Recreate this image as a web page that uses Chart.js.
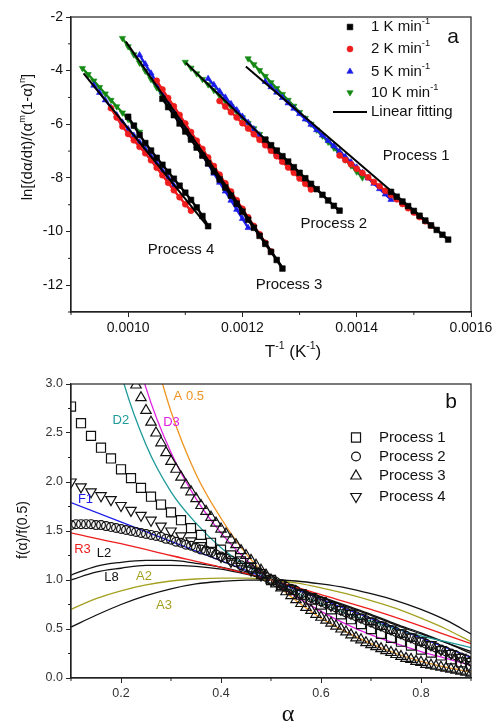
<!DOCTYPE html>
<html lang="en">
<head>
  <meta charset="UTF-8">
  <title>Kinetic analysis plots</title>
  <script src="https://cdn.jsdelivr.net/npm/chart.js"></script>
  <style>
    body { margin: 0; background: #fff; }
    #wrap { position: relative; width: 494px; height: 723px; }
    canvas { position: absolute; left: 0; }
    #chartA { top: 0; }
    #chartB { top: 365px; }
  </style>
</head>
<body>
<div id="wrap">
  <canvas id="chartA" width="494" height="365"></canvas>
  <canvas id="chartB" width="494" height="358"></canvas>
</div>
<script>
// ---------- panel a : ln[(da/dt)/(a^m(1-a)^n)] vs 1/T ----------
const a_xTicks = [0.0010, 0.0012, 0.0014, 0.0016];
const a_xMinor = [0.0009, 0.0011, 0.0013, 0.0015];
const a_yTicks = [-12, -10, -8, -6, -4, -2];
const a_yMinor = [-13, -11, -9, -7, -5, -3];

// Process 4
const a_p4_1K = [[0.00100,-5.72],[0.00101,-6.05],[0.00102,-6.40],[0.00103,-6.70],[0.00104,-6.98],[0.00105,-7.25],[0.00106,-7.51],[0.00107,-7.77],[0.00108,-8.03],[0.00109,-8.29],[0.00110,-8.55],[0.00111,-8.82],[0.00112,-9.10],[0.00113,-9.42],[0.00114,-9.80]];
const a_p4_2K = [[0.00097,-5.40],[0.00098,-5.75],[0.00099,-6.08],[0.00100,-6.36],[0.00101,-6.60],[0.00102,-6.84],[0.00103,-7.08],[0.00104,-7.34],[0.00105,-7.62],[0.00106,-7.90],[0.00107,-8.18],[0.00108,-8.46],[0.00109,-8.72],[0.00110,-8.98],[0.00111,-9.22]];
const a_p4_5K = [[0.00094,-4.55],[0.00095,-4.82],[0.00096,-5.10],[0.00097,-5.38],[0.00098,-5.66],[0.00099,-5.93],[0.00100,-6.18],[0.00101,-6.42],[0.00102,-6.67],[0.00103,-6.93],[0.00104,-7.19],[0.00105,-7.46],[0.00106,-7.73],[0.00107,-8.00],[0.00108,-8.28]];
const a_p4_10K = [[0.00092,-3.91],[0.00093,-4.14],[0.00094,-4.38],[0.00095,-4.62],[0.00096,-4.86],[0.00097,-5.10],[0.00098,-5.34],[0.00099,-5.57],[0.00100,-5.81],[0.00101,-6.05],[0.00102,-6.29]];
const a_fit4 = [[0.000922,-4.10],[0.001139,-9.81]];

// Process 3
const a_p3_1K = [[0.00106,-5.05],[0.00107,-5.36],[0.00108,-5.66],[0.00109,-5.97],[0.00110,-6.27],[0.00111,-6.57],[0.00112,-6.87],[0.00113,-7.17],[0.00114,-7.46],[0.00115,-7.76],[0.00116,-8.06],[0.00117,-8.36],[0.00118,-8.66],[0.00119,-8.96],[0.00120,-9.26],[0.00121,-9.56],[0.00122,-9.86],[0.00123,-10.16],[0.00124,-10.46],[0.00125,-10.76],[0.00126,-11.06],[0.00127,-11.38]];
const a_p3_2K = [[0.00105,-4.38],[0.00106,-4.70],[0.00107,-5.02],[0.00108,-5.33],[0.00109,-5.65],[0.00110,-5.97],[0.00111,-6.29],[0.00112,-6.61],[0.00113,-6.92],[0.00114,-7.24],[0.00115,-7.56],[0.00116,-7.88],[0.00117,-8.20],[0.00118,-8.51],[0.00119,-8.83],[0.00120,-9.15],[0.00121,-9.47],[0.00122,-9.79],[0.00123,-10.10],[0.00124,-10.42],[0.00125,-10.74]];
const a_p3_5K = [[0.00102,-3.42],[0.00103,-3.76],[0.00104,-4.10],[0.00105,-4.44],[0.00106,-4.78],[0.00107,-5.12],[0.00108,-5.45],[0.00109,-5.79],[0.00110,-6.13],[0.00111,-6.47],[0.00112,-6.81],[0.00113,-7.15],[0.00114,-7.49],[0.00115,-7.83],[0.00116,-8.17],[0.00117,-8.50],[0.00118,-8.84],[0.00119,-9.18],[0.00120,-9.52],[0.00121,-9.86]];
const a_p3_10K = [[0.00099,-2.79],[0.00100,-3.10],[0.00101,-3.40],[0.00102,-3.71],[0.00103,-4.01],[0.00104,-4.32],[0.00105,-4.63],[0.00106,-4.93],[0.00107,-5.24],[0.00108,-5.54],[0.00109,-5.85],[0.00110,-6.16],[0.00111,-6.46],[0.00112,-6.77],[0.00113,-7.07],[0.00114,-7.38],[0.00115,-7.69],[0.00116,-7.99],[0.00117,-8.30],[0.00118,-8.60],[0.00119,-8.91],[0.00120,-9.22]];
const a_fit3 = [[0.000996,-2.92],[0.001269,-11.30]];

// Process 2
const a_p2_1K = [[0.00124,-6.57],[0.00125,-6.78],[0.00126,-6.98],[0.00127,-7.19],[0.00128,-7.39],[0.00129,-7.60],[0.00130,-7.81],[0.00131,-8.01],[0.00132,-8.22],[0.00133,-8.42],[0.00134,-8.63],[0.00135,-8.84],[0.00136,-9.04],[0.00137,-9.22]];
const a_p2_2K = [[0.00116,-5.13],[0.00117,-5.34],[0.00118,-5.55],[0.00119,-5.75],[0.00120,-5.96],[0.00121,-6.16],[0.00122,-6.37],[0.00123,-6.58],[0.00124,-6.78],[0.00125,-6.99],[0.00126,-7.19],[0.00127,-7.40],[0.00128,-7.61],[0.00129,-7.81],[0.00130,-8.02],[0.00131,-8.22],[0.00132,-8.43]];
const a_p2_5K = [[0.00114,-4.30],[0.00115,-4.53],[0.00116,-4.77],[0.00117,-5.00],[0.00118,-5.24],[0.00119,-5.47],[0.00120,-5.71],[0.00121,-5.94],[0.00122,-6.18],[0.00123,-6.41],[0.00124,-6.65],[0.00125,-6.88],[0.00126,-7.12],[0.00127,-7.38]];
const a_p2_10K = [[0.00110,-3.68],[0.00111,-3.90],[0.00112,-4.11],[0.00113,-4.32],[0.00114,-4.52],[0.00115,-4.73],[0.00116,-4.93],[0.00117,-5.14],[0.00118,-5.34],[0.00119,-5.55],[0.00120,-5.75],[0.00121,-5.96],[0.00122,-6.16],[0.00123,-6.37],[0.00124,-6.57],[0.00125,-6.78],[0.00126,-6.98]];
const a_fit2 = [[0.001101,-3.71],[0.001367,-9.19]];

// Process 1
const a_p1_1K = [[0.00146,-8.52],[0.00147,-8.70],[0.00148,-8.88],[0.00149,-9.05],[0.00150,-9.23],[0.00151,-9.41],[0.00152,-9.59],[0.00153,-9.77],[0.00154,-9.94],[0.00155,-10.12],[0.00156,-10.30]];
const a_p1_2K = [[0.00137,-7.16],[0.00138,-7.33],[0.00139,-7.49],[0.00140,-7.66],[0.00141,-7.82],[0.00142,-7.98],[0.00143,-8.15],[0.00144,-8.31],[0.00145,-8.48],[0.00146,-8.64],[0.00147,-8.80],[0.00148,-8.97],[0.00149,-9.13],[0.00150,-9.29],[0.00151,-9.46],[0.00152,-9.62],[0.00153,-9.78]];
const a_p1_5K = [[0.00124,-4.41],[0.00125,-4.61],[0.00126,-4.81],[0.00127,-5.01],[0.00128,-5.21],[0.00129,-5.41],[0.00130,-5.61],[0.00131,-5.81],[0.00132,-6.01],[0.00133,-6.21],[0.00134,-6.41],[0.00135,-6.61],[0.00136,-6.81],[0.00137,-7.01],[0.00138,-7.21],[0.00139,-7.41],[0.00140,-7.61],[0.00141,-7.81],[0.00142,-8.01],[0.00143,-8.21],[0.00144,-8.41],[0.00145,-8.61],[0.00146,-8.81]];
const a_p1_10K = [[0.00121,-3.55],[0.00122,-3.77],[0.00123,-3.99],[0.00124,-4.21],[0.00125,-4.44],[0.00126,-4.66],[0.00127,-4.88],[0.00128,-5.10],[0.00129,-5.32],[0.00130,-5.55],[0.00131,-5.77],[0.00132,-5.99],[0.00133,-6.21],[0.00134,-6.43],[0.00135,-6.66],[0.00136,-6.88],[0.00137,-7.10],[0.00138,-7.32],[0.00139,-7.54],[0.00140,-7.77],[0.00141,-7.99]];
const a_fit1 = [[0.001206,-3.85],[0.00156,-10.31]];

// ---------- panel b : f(a)/f(0.5) master plots ----------
const b_ticksX = [0.2, 0.4, 0.6, 0.8];
const b_minorX = [0.1, 0.3, 0.5, 0.7, 0.9];
const b_ticksY = [0, 0.5, 1.0, 1.5, 2.0, 2.5, 3.0];
const b_minorY = [0.25, 0.75, 1.25, 1.75, 2.25, 2.75];

const b_alphaFine = [0.10,0.11,0.12,0.13,0.14,0.15,0.16,0.17,0.18,0.19,0.20,0.21,0.22,0.23,0.24,0.25,0.26,0.27,0.28,0.29,0.30,0.31,0.32,0.33,0.34,0.35,0.36,0.37,0.38,0.39,0.40,0.41,0.42,0.43,0.44,0.45,0.46,0.47,0.48,0.49,0.50,0.51,0.52,0.53,0.54,0.55,0.56,0.57,0.58,0.59,0.60,0.61,0.62,0.63,0.64,0.65,0.66,0.67,0.68,0.69,0.70,0.71,0.72,0.73,0.74,0.75,0.76,0.77,0.78,0.79,0.80,0.81,0.82,0.83,0.84,0.85,0.86,0.87,0.88,0.89,0.90];
const b_alphaCoarse = [0.10,0.12,0.14,0.16,0.18,0.20,0.22,0.24,0.26,0.28,0.30,0.32,0.34,0.36,0.38,0.40,0.42,0.44,0.46,0.48,0.50,0.52,0.54,0.56,0.58,0.60,0.62,0.64,0.66,0.68,0.70,0.72,0.74,0.76,0.78,0.80,0.82,0.84,0.86,0.88,0.90];

const b_proc1 = [2.77,2.60,2.47,2.35,2.24,2.13,2.04,1.94,1.85,1.77,1.69,1.61,1.53,1.46,1.38,1.31,1.25,1.19,1.13,1.06,1.00,0.95,0.90,0.85,0.80,0.75,0.70,0.65,0.60,0.55,0.50,0.45,0.41,0.37,0.33,0.29,0.26,0.23,0.19,0.16,0.12];
const b_proc2 = [1.56,1.57,1.57,1.57,1.57,1.56,1.56,1.55,1.54,1.53,1.52,1.51,1.50,1.49,1.48,1.47,1.46,1.45,1.44,1.42,1.41,1.39,1.38,1.36,1.35,1.33,1.31,1.30,1.28,1.26,1.24,1.22,1.20,1.18,1.15,1.13,1.11,1.08,1.05,1.03,1.00,0.98,0.96,0.93,0.91,0.89,0.86,0.84,0.82,0.80,0.78,0.76,0.74,0.72,0.69,0.67,0.65,0.63,0.61,0.59,0.57,0.55,0.53,0.51,0.49,0.47,0.45,0.43,0.41,0.39,0.37,0.35,0.33,0.31,0.29,0.27,0.25,0.23,0.21,0.19,0.17];
const b_proc3 = [null,null,null,null,null,null,null,null,null,null,null,null,null,2.99,2.86,2.73,2.61,2.50,2.40,2.30,2.21,2.13,2.05,1.97,1.90,1.83,1.76,1.70,1.64,1.58,1.52,1.47,1.41,1.36,1.30,1.25,1.20,1.15,1.10,1.05,1.00,0.96,0.92,0.88,0.84,0.80,0.76,0.72,0.69,0.65,0.62,0.59,0.56,0.53,0.50,0.47,0.44,0.41,0.39,0.36,0.34,0.32,0.30,0.28,0.26,0.24,0.22,0.20,0.19,0.17,0.16,0.14,0.13,0.12,0.11,0.10,0.09,0.08,0.07,0.06,0.05];
const b_proc4 = [2.00,1.95,1.90,1.86,1.82,1.76,1.71,1.66,1.61,1.55,1.50,1.45,1.40,1.35,1.30,1.24,1.19,1.14,1.10,1.05,1.00,0.96,0.91,0.87,0.83,0.79,0.74,0.70,0.66,0.62,0.58,0.54,0.50,0.46,0.42,0.38,0.34,0.29,0.25,0.21,0.17];

// model curves [alpha, f(alpha)/f(0.5)]
const b_A05 = [[0.25,3.6],[0.30,2.72],[0.35,2.08],[0.40,1.63],[0.45,1.27],[0.50,1.00],[0.55,0.79],[0.60,0.61],[0.65,0.47],[0.70,0.35],[0.75,0.25],[0.80,0.17],[0.85,0.11],[0.90,0.06]];
const b_D3 = [[0.20,3.94],[0.25,2.96],[0.30,2.30],[0.35,1.83],[0.40,1.48],[0.45,1.21],[0.50,1.00],[0.55,0.83],[0.60,0.68],[0.65,0.55],[0.70,0.44],[0.75,0.35],[0.80,0.27],[0.85,0.20],[0.90,0.13]];
const b_D2 = [[0.15,4.27],[0.20,3.11],[0.25,2.38],[0.30,1.90],[0.35,1.58],[0.40,1.33],[0.45,1.15],[0.50,1.00],[0.55,0.87],[0.60,0.76],[0.65,0.66],[0.70,0.58],[0.75,0.50],[0.80,0.43],[0.85,0.37],[0.90,0.31]];
const b_F1 = [[0.10,1.79],[0.50,1.00],[0.90,0.21]];
const b_R3 = [[0.10,1.48],[0.20,1.37],[0.30,1.25],[0.40,1.13],[0.50,1.00],[0.60,0.85],[0.70,0.70],[0.80,0.53],[0.90,0.35]];
const b_L2 = [[0.10,1.05],[0.15,1.14],[0.20,1.18],[0.25,1.20],[0.30,1.20],[0.35,1.17],[0.40,1.13],[0.45,1.07],[0.50,1.00],[0.55,0.91],[0.60,0.82],[0.65,0.73],[0.70,0.64],[0.75,0.54],[0.80,0.45],[0.85,0.36],[0.90,0.27]];
const b_L8 = [[0.10,1.00],[0.15,1.08],[0.20,1.12],[0.25,1.15],[0.30,1.15],[0.35,1.14],[0.40,1.11],[0.45,1.06],[0.50,1.00],[0.55,0.92],[0.60,0.83],[0.65,0.74],[0.70,0.65],[0.75,0.55],[0.80,0.46],[0.85,0.36],[0.90,0.25]];
const b_A2 = [[0.10,0.70],[0.15,0.81],[0.20,0.89],[0.25,0.95],[0.30,0.99],[0.35,1.01],[0.40,1.02],[0.45,1.02],[0.50,1.00],[0.55,0.97],[0.60,0.92],[0.65,0.86],[0.70,0.79],[0.75,0.71],[0.80,0.61],[0.85,0.50],[0.90,0.37]];
const b_A3 = [[0.10,0.52],[0.15,0.64],[0.20,0.75],[0.25,0.84],[0.30,0.91],[0.35,0.96],[0.40,0.985],[0.45,0.998],[0.50,1.00],[0.55,0.99],[0.60,0.96],[0.65,0.92],[0.70,0.86],[0.75,0.79],[0.80,0.70],[0.85,0.59],[0.90,0.45]];

// ---------- helpers ----------
const FONT = '"Liberation Sans", Arial, sans-serif';
const C_RED = '#ee1c1c', C_BLUE = '#1c1ce8', C_GREEN = '#148a14';

const pairs = p => p.map(d => ({ x: d[0], y: d[1] }));
const zip = (xs, ys) => xs.map((x, i) => ({ x: x, y: ys[i] }));

function drawRich(ctx, parts, x, y, size, align, family) {
  const fam = family || FONT;
  let w = 0;
  parts.forEach(p => {
    ctx.font = (p[1] ? size * 0.62 : size) + 'px ' + fam;
    w += ctx.measureText(p[0]).width;
  });
  let cx = align === 'center' ? x - w / 2 : (align === 'right' ? x - w : x);
  ctx.textAlign = 'left';
  ctx.textBaseline = 'middle';
  parts.forEach(p => {
    const s = p[1] ? size * 0.62 : size;
    ctx.font = s + 'px ' + fam;
    ctx.fillText(p[0], cx, p[1] ? y - size * 0.36 : y);
    cx += ctx.measureText(p[0]).width;
  });
}

function seg(ctx, x1, y1, x2, y2) {
  ctx.beginPath(); ctx.moveTo(x1, y1); ctx.lineTo(x2, y2); ctx.stroke();
}

function decor(cfg) {
  return {
    id: 'decor',
    afterDraw(chart) {
      const ctx = chart.ctx, ca = chart.chartArea;
      const sx = chart.scales.x, sy = chart.scales.y;
      ctx.save();
      // frame
      ctx.strokeStyle = '#222';
      ctx.lineWidth = 1.2;
      ctx.strokeRect(ca.left, ca.top, ca.right - ca.left, ca.bottom - ca.top);
      // minor ticks
      ctx.lineWidth = 1;
      cfg.minorX.forEach(v => { const p = sx.getPixelForValue(v); seg(ctx, p, ca.bottom, p, ca.bottom + 3); });
      cfg.minorY.forEach(v => { const p = sy.getPixelForValue(v); seg(ctx, ca.left - 3, p, ca.left, p); });
      // annotations
      cfg.texts.forEach(t => {
        ctx.fillStyle = t.color || '#111';
        drawRich(ctx, t.parts, sx.getPixelForValue(t.x), sy.getPixelForValue(t.y), t.size, 'center', t.family);
      });
      // legend
      const lg = cfg.legend;
      lg.items.forEach((it, i) => {
        const y = lg.y[i];
        if (it.line) {
          ctx.strokeStyle = '#000'; ctx.lineWidth = 2;
          seg(ctx, lg.lineX[0], y, lg.lineX[1], y);
        } else {
          ctx.fillStyle = it.fill; ctx.strokeStyle = it.color; ctx.lineWidth = it.bw;
          Chart.helpers.drawPoint(ctx, { pointStyle: it.style, rotation: it.rot || 0, radius: it.r, borderWidth: it.bw }, lg.markX, y);
        }
        ctx.fillStyle = '#111';
        drawRich(ctx, it.parts, lg.textX, y, lg.size, 'left');
      });
      // axis titles
      ctx.fillStyle = '#111';
      const xt = cfg.xTitle, yt = cfg.yTitle;
      drawRich(ctx, xt.parts, xt.x, xt.y, xt.size, 'center', xt.family);
      ctx.translate(yt.x, yt.y);
      ctx.rotate(-Math.PI / 2);
      drawRich(ctx, yt.parts, 0, 0, yt.size, 'center', yt.family);
      ctx.restore();
    }
  };
}

function axes(xr, yr, xTicks, yTicks, xFmt, yFmt, xH, yW, fontSize, color) {
  const common = (ticks, fmt) => ({
    type: 'linear',
    grid: { drawOnChartArea: false, drawTicks: true, tickLength: 5, color: '#222', tickWidth: 1 },
    border: { display: true, color: '#222', width: 1.2 },
    afterBuildTicks: s => { s.ticks = ticks.map(v => ({ value: v })); },
    ticks: { padding: 3, color: color, font: { family: FONT, size: fontSize }, callback: v => v.toFixed(fmt), maxRotation: 0, autoSkip: false }
  });
  const x = Object.assign(common(xTicks, xFmt), {
    min: xr[0], max: xr[1],
    afterFit: s => { s.height = xH; s.paddingLeft = 0; s.paddingRight = 0; s.paddingTop = 0; s.paddingBottom = 0; }
  });
  const y = Object.assign(common(yTicks, yFmt), {
    min: yr[0], max: yr[1],
    afterFit: s => { s.width = yW; s.paddingLeft = 0; s.paddingRight = 0; s.paddingTop = 0; s.paddingBottom = 0; }
  });
  return { x: x, y: y };
}

// dense marker chains: markers joined by a line of the same colour
function sc(data, color, style, r, order, rot) {
  return {
    data: pairs(data), showLine: true, borderColor: color, borderWidth: 2.4, order: order,
    pointStyle: style, pointRadius: r, pointRotation: rot || 0,
    pointBackgroundColor: color, pointBorderColor: color, pointBorderWidth: 0.6
  };
}
function fit(data) {
  return { data: pairs(data), showLine: true, borderColor: '#000', borderWidth: 2, pointRadius: 0, order: 0 };
}

// ---------- chart a ----------
new Chart(document.getElementById('chartA'), {
  type: 'scatter',
  data: {
    datasets: [
      sc(a_p1_10K, C_GREEN, 'triangle', 3.6, 4, 180), sc(a_p2_10K, C_GREEN, 'triangle', 3.6, 4, 180),
      sc(a_p3_10K, C_GREEN, 'triangle', 3.6, 4, 180), sc(a_p4_10K, C_GREEN, 'triangle', 3.6, 4, 180),
      sc(a_p1_5K, C_BLUE, 'triangle', 3.6, 3), sc(a_p2_5K, C_BLUE, 'triangle', 3.6, 3),
      sc(a_p3_5K, C_BLUE, 'triangle', 3.6, 3), sc(a_p4_5K, C_BLUE, 'triangle', 3.6, 3),
      sc(a_p1_2K, C_RED, 'circle', 3, 2), sc(a_p2_2K, C_RED, 'circle', 3, 2),
      sc(a_p3_2K, C_RED, 'circle', 3, 2), sc(a_p4_2K, C_RED, 'circle', 3, 2),
      sc(a_p1_1K, '#000', 'rect', 4, 1), sc(a_p2_1K, '#000', 'rect', 4, 1),
      sc(a_p3_1K, '#000', 'rect', 4, 1), sc(a_p4_1K, '#000', 'rect', 4, 1),
      fit(a_fit1), fit(a_fit2), fit(a_fit3), fit(a_fit4)
    ]
  },
  options: {
    responsive: false, animation: false, events: [],
    layout: { padding: { left: 0, top: 17, right: 23, bottom: 0 }, autoPadding: false },
    plugins: { legend: { display: false }, tooltip: { enabled: false } },
    scales: axes([0.0009, 0.0016], [-13, -2], a_xTicks, a_yTicks, 4, 0, 53, 71, 14, '#111')
  },
  plugins: [decor({
    minorX: a_xMinor, minorY: a_yMinor,
    texts: [
      { parts: [['Process 1', 0]], x: 0.001504, y: -7.18, size: 15 },
      { parts: [['Process 2', 0]], x: 0.001360, y: -9.71, size: 15 },
      { parts: [['Process 3', 0]], x: 0.0012815, y: -11.98, size: 15 },
      { parts: [['Process 4', 0]], x: 0.0010925, y: -10.68, size: 15 },
      { parts: [['a', 0]], x: 0.0015685, y: -2.75, size: 21 }
    ],
    legend: {
      markX: 350, textX: 371, lineX: [333, 367], size: 15,
      y: [27, 49, 71.5, 92.5, 112],
      items: [
        { parts: [['1 K min', 0], ['-1', 1]], style: 'rect', r: 4, color: '#000', fill: '#000', bw: 0.6 },
        { parts: [['2 K min', 0], ['-1', 1]], style: 'circle', r: 3, color: C_RED, fill: C_RED, bw: 0.6 },
        { parts: [['5 K min', 0], ['-1', 1]], style: 'triangle', r: 3.6, color: C_BLUE, fill: C_BLUE, bw: 0.6 },
        { parts: [['10 K min', 0], ['-1', 1]], style: 'triangle', rot: 180, r: 3.6, color: C_GREEN, fill: C_GREEN, bw: 0.6 },
        { parts: [['Linear fitting', 0]], line: true }
      ]
    },
    xTitle: { parts: [['T', 0], ['-1', 1], [' (K', 0], ['-1', 1], [')', 0]], x: 293, y: 352, size: 17 },
    yTitle: { parts: [['ln[(d\u03b1/dt)/(\u03b1', 0], ['m', 1], ['(1-\u03b1)', 0], ['n', 1], [']', 0]], x: 28, y: 137, size: 15 }
  })]
});

// ---------- chart b ----------
function mk(alpha, vals, style, r, rot) {
  return {
    data: zip(alpha, vals), showLine: false, order: 1,
    pointStyle: style, pointRadius: r, pointRotation: rot || 0,
    pointBackgroundColor: 'rgba(0,0,0,0)', pointBorderColor: '#111', pointBorderWidth: 1.2
  };
}
function model(data, color) {
  return {
    data: pairs(data), showLine: true, borderColor: color, borderWidth: 1.3, pointRadius: 0,
    cubicInterpolationMode: 'monotone', order: 5
  };
}
const C_ORANGE = '#ee9420', C_MAGENTA = '#e020e0', C_TEAL = '#1f9a9a', C_OLIVE = '#a3a020';

new Chart(document.getElementById('chartB'), {
  type: 'scatter',
  data: {
    datasets: [
      model(b_A05, C_ORANGE), model(b_D3, C_MAGENTA), model(b_D2, C_TEAL),
      model(b_F1, C_BLUE), model(b_R3, C_RED), model(b_L2, '#111'), model(b_L8, '#111'),
      model(b_A2, C_OLIVE), model(b_A3, '#111'),
      mk(b_alphaCoarse, b_proc1, 'rect', 6.4),
      mk(b_alphaFine, b_proc2, 'circle', 4.4),
      mk(b_alphaFine, b_proc3, 'triangle', 6),
      mk(b_alphaCoarse, b_proc4, 'triangle', 6, 180)
    ]
  },
  options: {
    responsive: false, animation: false, events: [],
    layout: { padding: { left: 0, top: 19, right: 23, bottom: 0 }, autoPadding: false },
    plugins: { legend: { display: false }, tooltip: { enabled: false } },
    scales: axes([0.1, 0.9], [0, 3], b_ticksX, b_ticksY, 1, 1, 45, 71, 12.5, '#333')
  },
  plugins: [decor({
    minorX: b_minorX, minorY: b_minorY,
    texts: [
      { parts: [['A 0.5', 0]], x: 0.3356, y: 2.87, size: 13, color: C_ORANGE },
      { parts: [['D2', 0]], x: 0.1997, y: 2.63, size: 13, color: C_TEAL },
      { parts: [['D3', 0]], x: 0.301, y: 2.61, size: 13, color: C_MAGENTA },
      { parts: [['F1', 0]], x: 0.129, y: 1.82, size: 13, color: C_BLUE },
      { parts: [['R3', 0]], x: 0.123, y: 1.31, size: 13, color: C_RED },
      { parts: [['L2', 0]], x: 0.166, y: 1.27, size: 13, color: '#111' },
      { parts: [['L8', 0]], x: 0.181, y: 1.03, size: 13, color: '#111' },
      { parts: [['A2', 0]], x: 0.246, y: 1.04, size: 13, color: C_OLIVE },
      { parts: [['A3', 0]], x: 0.286, y: 0.745, size: 13, color: C_OLIVE },
      { parts: [['b', 0]], x: 0.86, y: 2.81, size: 21 }
    ],
    legend: {
      markX: 356, textX: 379, lineX: [0, 0], size: 15,
      y: [72.5, 91.5, 111, 131.5],
      items: [
        { parts: [['Process 1', 0]], style: 'rect', r: 6.4, color: '#111', fill: 'rgba(0,0,0,0)', bw: 1.2 },
        { parts: [['Process 2', 0]], style: 'circle', r: 4.4, color: '#111', fill: 'rgba(0,0,0,0)', bw: 1.2 },
        { parts: [['Process 3', 0]], style: 'triangle', r: 6, color: '#111', fill: 'rgba(0,0,0,0)', bw: 1.2 },
        { parts: [['Process 4', 0]], style: 'triangle', rot: 180, r: 6, color: '#111', fill: 'rgba(0,0,0,0)', bw: 1.2 }
      ]
    },
    xTitle: { parts: [['\u03b1', 0]], x: 288, y: 350, size: 24, family: '"Liberation Serif", "DejaVu Serif", serif' },
    yTitle: { parts: [['f(\u03b1)/f(0.5)', 0]], x: 23, y: 165, size: 14 }
  })]
});
</script>
</body>
</html>
